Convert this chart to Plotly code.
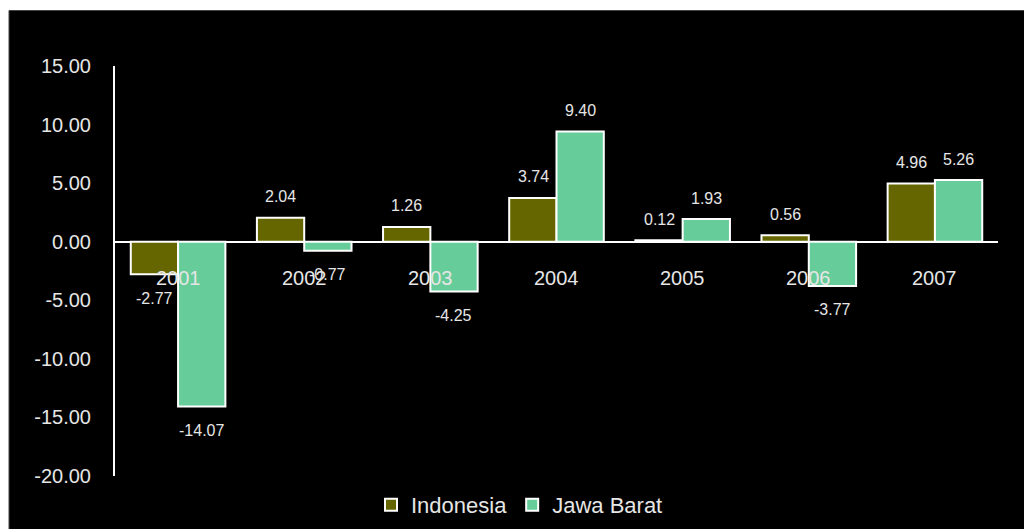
import plotly.graph_objects as go

years = ["2001", "2002", "2003", "2004", "2005", "2006", "2007"]
indonesia = [-2.77, 2.04, 1.26, 3.74, 0.12, 0.56, 4.96]
jawa_barat = [-14.07, -0.77, -4.25, 9.40, 1.93, -3.77, 5.26]
series_names = ["Indonesia", "Jawa Barat"]
y_ticks = [15, 10, 5, 0, -5, -10, -15, -20]

FONT = "Liberation Sans, Arial, sans-serif"
TXT = "#e6e6e6"

fig = go.Figure()
fig.add_trace(go.Bar(x=years, y=indonesia, name=series_names[0],
                     marker=dict(color="#666600", line=dict(color="white", width=2))))
fig.add_trace(go.Bar(x=years, y=jawa_barat, name=series_names[1],
                     marker=dict(color="#66CC99", line=dict(color="white", width=2))))

annotations = []
for i, y in enumerate(years):
    annotations.append(dict(x=i, y=0, xref="x", yref="y", text=y, showarrow=False,
                            yanchor="middle", yshift=-36,
                            font=dict(family=FONT, size=20, color=TXT)))
for vals, xs in ((indonesia, -23.5), (jawa_barat, 23.5)):
    for i, v in enumerate(vals):
        annotations.append(dict(x=i, y=v, xref="x", yref="y", text=f"{v:.2f}",
                                showarrow=False, xshift=xs, yanchor="middle",
                                yshift=21 if v >= 0 else -24,
                                font=dict(family=FONT, size=16, color=TXT)))

# page body has an 8px margin; lay out in page pixels and shift
OFF = 8
W, H = 1032, 529
pl, pr, ptop, pbot = 115, 998, 66, 476  # plot area in page pixels
L, T = pl - OFF, ptop - OFF
R = W - (pr - OFF)
B = H - (pbot - OFF)
pw, ph = pr - pl, pbot - ptop

def px_to_paper_x(px):
    return (px - pl) / pw

def py_to_paper_y(py):
    return (pbot - py) / ph

fig.update_layout(
    width=W, height=H,
    margin=dict(l=L, r=R, t=T, b=B, autoexpand=False),
    paper_bgcolor="white", plot_bgcolor="black",
    barmode="group", bargap=0.25, bargroupgap=0,
    font=dict(family=FONT, color=TXT),
    showlegend=True,
    legend=dict(orientation="h", x=px_to_paper_x(371), xanchor="left",
                y=py_to_paper_y(505), yanchor="middle",
                font=dict(family=FONT, size=22, color=TXT),
                bgcolor="rgba(0,0,0,0)", itemwidth=30, tracegroupgap=0),
    xaxis=dict(type="category", range=[-0.5, len(years) - 0.5], showticklabels=False,
               showline=False, showgrid=False, zeroline=False, ticks=""),
    yaxis=dict(range=[-20, 15], tickvals=y_ticks, ticktext=[f"{v:.2f}" for v in y_ticks],
               showline=True, linecolor="white", linewidth=2,
               showgrid=False, zeroline=True, zerolinecolor="white", zerolinewidth=2,
               ticks="", ticklabelstandoff=18,
               tickfont=dict(family=FONT, size=20, color=TXT)),
    annotations=annotations,
    shapes=[dict(type="rect", xref="paper", yref="paper", layer="below",
                 x0=px_to_paper_x(9), x1=px_to_paper_x(1060),
                 y0=py_to_paper_y(560), y1=py_to_paper_y(10.5),
                 fillcolor="black", line=dict(color="#444444", width=1))],
)

fig.write_html("out.html")
